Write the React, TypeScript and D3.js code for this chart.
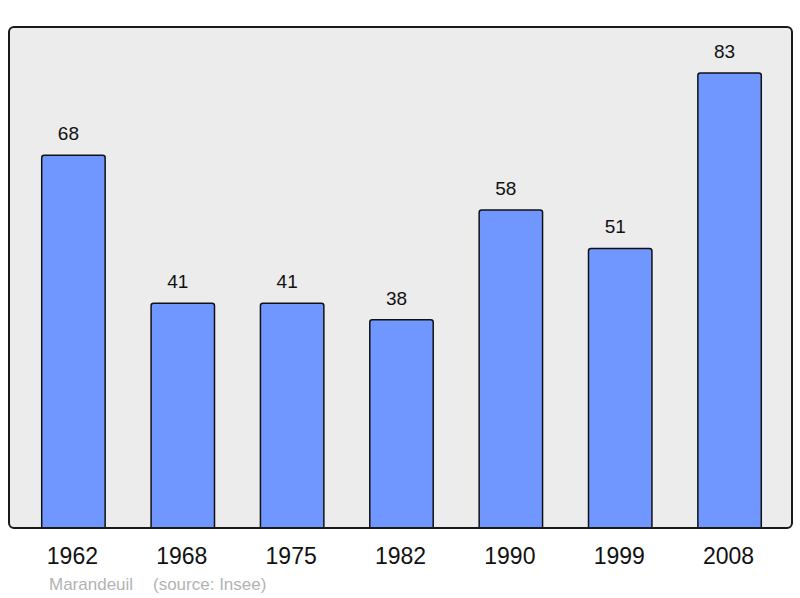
import React from 'react';
import * as d3 from 'd3';

const years = ['1962', '1968', '1975', '1982', '1990', '1999', '2008'];
const population = [68, 41, 41, 38, 58, 51, 83];
const commune = 'Marandeuil';
const source = '(source: Insee)';

const W = 800;
const H = 598;
const frame = { left: 9, top: 27, right: 792, bottom: 528 };

export default function App() {
  const x = d3.scaleBand<string>()
    .domain(years)
    .range([frame.left + 1, frame.right + 1])
    .paddingInner(0.42)
    .paddingOuter(0.29);

  // baseline sits on the frame bottom, ~5.48px per inhabitant
  const y = d3.scaleLinear()
    .domain([0, 91.4])
    .range([frame.bottom, frame.top]);

  const font = '"Liberation Sans", Arial, sans-serif';

  return (
    <svg width={W} height={H} style={{ position: 'absolute', left: 0, top: 0 }} fontFamily={font}>
      <rect x={0} y={0} width={W} height={H} fill="#ffffff" />
      <rect
        x={frame.left}
        y={frame.top}
        width={frame.right - frame.left}
        height={frame.bottom - frame.top}
        rx={5}
        fill="#ececec"
        stroke="none"
      />
      {years.map((yr, i) => {
        const bx = x(yr)!;
        const bw = x.bandwidth();
        const top = y(population[i]);
        const r = 2.5;
        const bottom = y(0);
        const path = `M${bx},${bottom} V${top + r} Q${bx},${top} ${bx + r},${top} H${bx + bw - r} Q${bx + bw},${top} ${bx + bw},${top + r} V${bottom}`;
        return (
          <g key={yr}>
            <path d={path} fill="#7097ff" stroke="#111" strokeWidth={1.5} />
            <text
              x={bx + bw / 2 - 5}
              y={top - 15}
              textAnchor="middle"
              fontSize={19}
              fill="#111"
            >
              {population[i]}
            </text>
            <text
              x={bx + bw / 2 - 1}
              y={564}
              textAnchor="middle"
              fontSize={23}
              fill="#111"
            >
              {yr}
            </text>
          </g>
        );
      })}
      <rect
        x={frame.left}
        y={frame.top}
        width={frame.right - frame.left}
        height={frame.bottom - frame.top}
        rx={5}
        fill="none"
        stroke="#1a1a1a"
        strokeWidth={2}
      />
      <text x={49} y={590} fontSize={17} fill="#b3b3b3">{commune}</text>
      <text x={153} y={590} fontSize={17} fill="#b3b3b3">{source}</text>
    </svg>
  );
}
